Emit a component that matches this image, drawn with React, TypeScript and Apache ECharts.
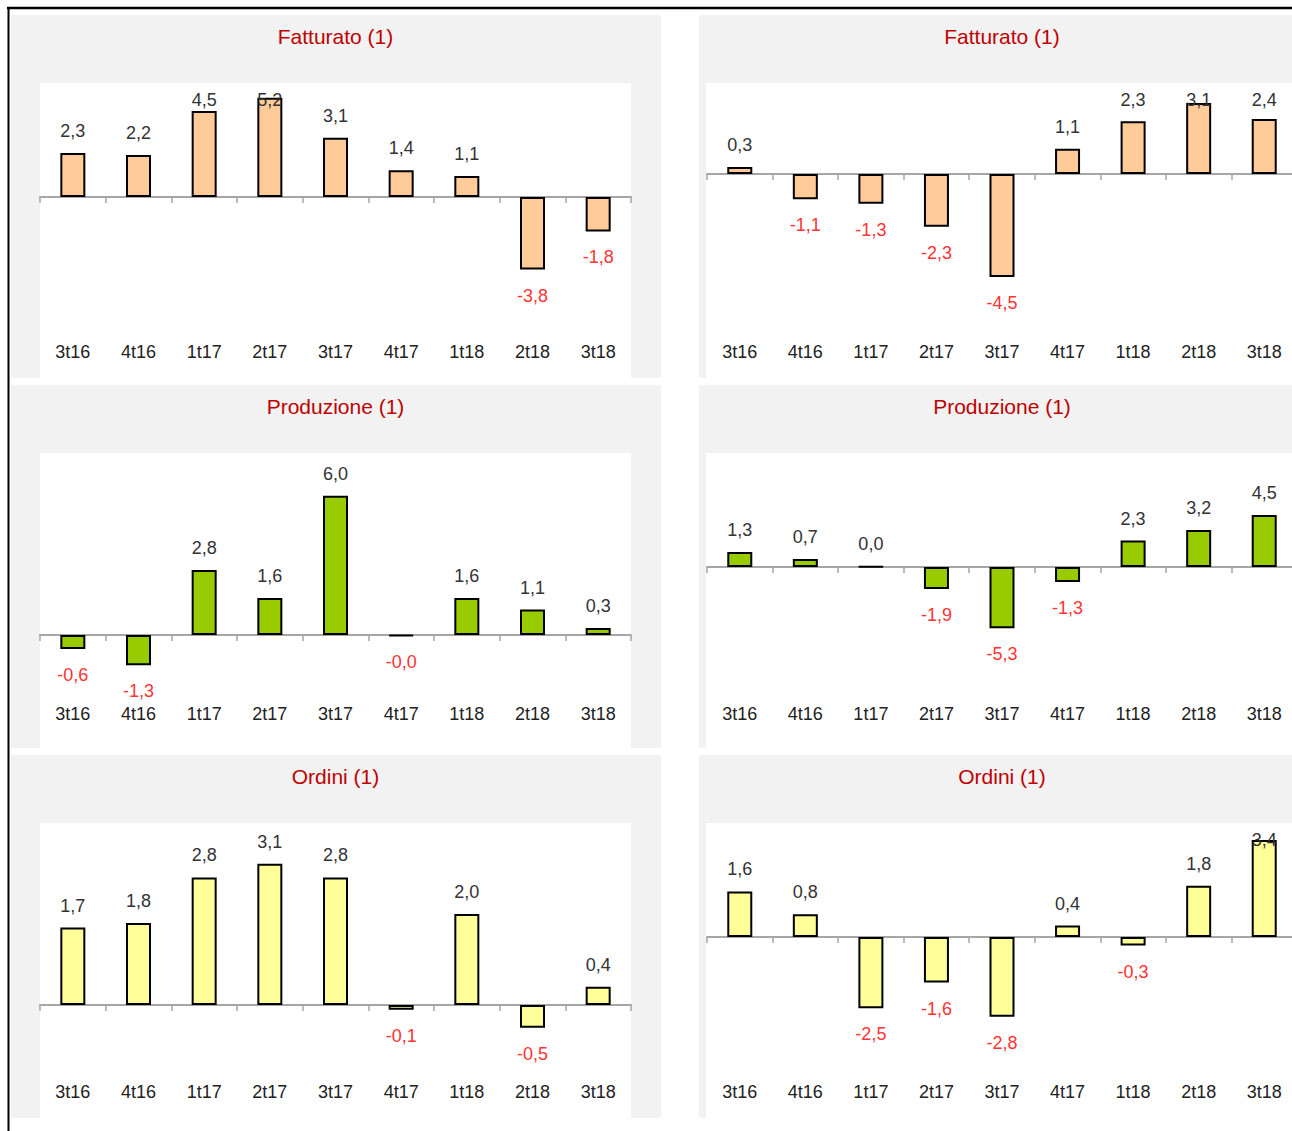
import React, { useEffect, useRef } from "react";
import * as echarts from "echarts";

// ---- data ----
const categories = ["3t16", "4t16", "1t17", "2t17", "3t17", "4t17", "1t18", "2t18", "3t18"];
const fatturatoLeft = [2.3, 2.2, 4.5, 5.2, 3.1, 1.4, 1.1, -3.8, -1.8];
const fatturatoRight = [0.3, -1.1, -1.3, -2.3, -4.5, 1.1, 2.3, 3.1, 2.4];
const produzioneLeft = [-0.6, -1.3, 2.8, 1.6, 6.0, -0.04, 1.6, 1.1, 0.3];
const produzioneRight = [1.3, 0.7, 0.04, -1.9, -5.3, -1.3, 2.3, 3.2, 4.5];
const ordiniLeft = [1.7, 1.8, 2.8, 3.1, 2.8, -0.1, 2.0, -0.5, 0.4];
const ordiniRight = [1.6, 0.8, -2.5, -1.6, -2.8, 0.4, -0.3, 1.8, 3.4];
const titles = ["Fatturato (1)", "Produzione (1)", "Ordini (1)"];
// value-axis ranges [min, max] per row
const yRangesLeft = [[-7.38, 5.55], [-2.8, 7.5], [-1.6, 3.82]];
const yRangesRight = [[-7.16, 3.62], [-11.5, 9.18], [-4.95, 3.72]];

// ---- styles / layout ----
const FONT = "'Liberation Sans', Arial, Helvetica, sans-serif";
const BAR_COLORS = ["#ffcc99", "#99cc00", "#ffff99"];
const CHART_W = 1320;
const CHART_H = 1131;
const ROW_TOP = [15, 385, 755];
const PANEL_H = 363;
const WHITE_DY = 68;
const GRID_DY = 76;
const GRID_BOTTOM_DY = [323, 315, 323];
const COLS = [
  { grayX: 11, grayW: 650, whiteX: 40, whiteW: 591, plotX: 40, plotW: 591 },
  { grayX: 699, grayW: 620, whiteX: 706, whiteW: 610, plotX: 707, plotW: 590 },
];

const fmt = (v: number) => v.toFixed(1).replace(".", ",");

function buildOption() {
  const rows = [
    [fatturatoLeft, fatturatoRight],
    [produzioneLeft, produzioneRight],
    [ordiniLeft, ordiniRight],
  ];
  const ranges = [yRangesLeft, yRangesRight];
  const grids: any[] = [];
  const xAxes: any[] = [];
  const yAxes: any[] = [];
  const series: any[] = [];
  const graphics: any[] = [];

  // border
  graphics.push({
    type: "line",
    shape: { x1: 7, y1: 8, x2: CHART_W, y2: 8 },
    style: { stroke: "#000", lineWidth: 2.5 },
  });
  graphics.push({
    type: "line",
    shape: { x1: 8.5, y1: 7, x2: 8.5, y2: CHART_H },
    style: { stroke: "#000", lineWidth: 2 },
  });

  let gi = 0;
  for (let r = 0; r < 3; r++) {
    for (let c = 0; c < 2; c++) {
      const col = COLS[c];
      const top = ROW_TOP[r];
      const gridTop = top + GRID_DY;
      const gridBottom = top + GRID_BOTTOM_DY[r];
      const values = rows[r][c];
      const [yMin, yMax] = ranges[c][r];

      graphics.push({
        type: "rect",
        shape: { x: col.grayX, y: top, width: col.grayW, height: PANEL_H },
        style: { fill: "#f2f2f2" },
      });
      graphics.push({
        type: "rect",
        shape: { x: col.whiteX, y: top + WHITE_DY, width: col.whiteW, height: PANEL_H - WHITE_DY },
        style: { fill: "#ffffff" },
      });
      graphics.push({
        type: "text",
        x: col.plotX + col.plotW / 2,
        y: top + 21,
        style: {
          text: titles[r],
          fill: "#c00000",
          fontSize: 21,
          fontFamily: FONT,
          textAlign: "center",
          textVerticalAlign: "middle",
        },
      });

      grids.push({
        left: col.plotX,
        top: gridTop,
        width: col.plotW,
        height: gridBottom - gridTop,
        containLabel: false,
      });
      // zero axis with ticks
      xAxes.push({
        type: "category",
        gridIndex: gi,
        data: categories,
        position: "bottom",
        z: 5,
        axisLine: { show: true, onZero: true, lineStyle: { color: "#a6a6a6", width: 2 } },
        axisTick: { show: true, interval: 0, length: 6, lineStyle: { color: "#a6a6a6", width: 1.5 } },
        axisLabel: { show: false },
        splitLine: { show: false },
      });
      // labels at bottom
      xAxes.push({
        type: "category",
        gridIndex: gi,
        data: categories,
        position: "bottom",
        z: 5,
        axisLine: { show: false, onZero: false },
        axisTick: { show: false },
        axisLabel: {
          show: true,
          interval: 0,
          margin: 5,
          fontSize: 18,
          color: "#222222",
          fontFamily: FONT,
        },
        splitLine: { show: false },
      });
      yAxes.push({
        type: "value",
        gridIndex: gi,
        min: yMin,
        max: yMax,
        show: false,
        splitLine: { show: false },
      });

      const clampTop = gridTop;
      series.push({
        type: "bar",
        xAxisIndex: gi * 2,
        yAxisIndex: gi,
        z: 6,
        barWidth: 25,
        itemStyle: { color: BAR_COLORS[r], borderColor: "#000000", borderWidth: 2 },
        data: values.map((v) => ({
          value: v,
          label: {
            show: true,
            position: v < 0 ? "bottom" : "top",
            distance: v < 0 ? 17 : 13,
            color: v < 0 ? "#ff3333" : "#333333",
          },
        })),
        label: {
          show: true,
          fontSize: 18,
          fontFamily: FONT,
          formatter: (p: any) => fmt(p.value),
        },
        labelLayout: (p: any) => {
          const rect = p.labelRect;
          if (rect && rect.y < clampTop) return { dy: clampTop - rect.y };
          return {};
        },
      });
      gi++;
    }
  }

  return {
    animation: false,
    backgroundColor: "#ffffff",
    graphic: { elements: graphics },
    grid: grids,
    xAxis: xAxes,
    yAxis: yAxes,
    series,
  };
}

export default function App() {
  const ref = useRef<HTMLDivElement>(null);
  useEffect(() => {
    if (!ref.current) return;
    const chart = echarts.init(ref.current, undefined, { renderer: "svg" });
    chart.setOption(buildOption() as any);
    return () => chart.dispose();
  }, []);
  return (
    <div
      ref={ref}
      style={{ position: "fixed", left: 0, top: 0, width: CHART_W, height: CHART_H }}
    />
  );
}
